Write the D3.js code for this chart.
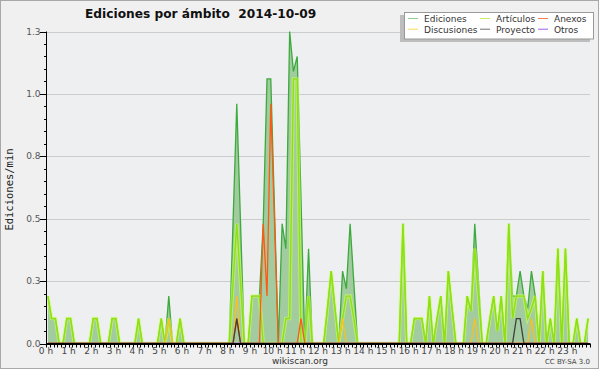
<!DOCTYPE html>
<html>
<head>
<meta charset="utf-8">
<script src="https://cdn.jsdelivr.net/npm/d3@7"></script>
<style>
  body { margin: 0; background: #fff; }
  svg text { font-family: "DejaVu Sans", sans-serif; white-space: pre; }
</style>
</head>
<body>
<div id="chart"></div>
<script>
// edits per minute, one value per 10-minute bin (144 bins = 24 h)
var ediciones = [
  0.19,0.1,0.1,0,0,0.1,0.1,0,0,0,0,0,
  0.1,0.1,0,0,0,0.1,0.1,0,0,0,0,0,
  0.1,0,0,0,0,0,0.1,0,0.19,0,0,0.1,
  0,0,0,0,0,0,0,0,0,0,0,0,
  0,0.48,0.96,0.48,0,0,0.19,0.19,0.19,0.48,1.06,1.06,
  0.53,0,0.48,0.38,1.25,1.09,1.15,0.58,0,0.38,0,0,
  0,0,0.14,0.29,0.14,0,0.29,0.22,0.48,0.24,0,0,
  0,0,0,0,0,0,0,0,0,0,0.48,0,
  0,0.1,0.1,0.1,0,0.19,0,0.1,0.19,0,0.29,0.14,
  0,0,0,0.19,0.13,0.48,0.24,0,0,0.1,0.19,0.05,
  0.19,0,0.48,0.19,0.19,0.29,0.19,0.14,0.29,0.19,0,0.29,
  0,0.1,0,0.38,0,0.38,0,0,0.1,0,0,0.1
];
var articulos = [
  0.19,0.1,0.1,0,0,0.1,0.1,0,0,0,0,0,
  0.1,0.1,0,0,0,0.1,0.1,0,0,0,0,0,
  0.1,0,0,0,0,0,0.1,0,0.1,0,0,0.1,
  0,0,0,0,0,0,0,0,0,0,0,0,
  0,0.24,0.48,0.24,0,0,0.19,0.19,0.19,0,0,0,
  0,0,0,0.1,0.1,1.06,1.06,0,0,0.19,0,0,
  0,0,0.14,0.29,0.14,0,0.1,0.19,0.19,0.1,0,0,
  0,0,0,0,0,0,0,0,0,0,0.48,0,
  0,0.1,0.1,0.1,0,0.19,0,0.1,0.19,0,0.29,0.14,
  0,0,0,0.19,0.13,0.38,0.19,0,0,0.1,0.19,0.05,
  0.19,0,0.48,0.1,0.19,0.19,0.19,0.1,0.14,0.19,0,0.29,
  0,0.1,0,0.38,0,0.38,0,0,0.1,0,0,0.1
];
var anexos = [
  0,0,0,0,0,0,0,0,0,0,0,0,
  0,0,0,0,0,0,0,0,0,0,0,0,
  0,0,0,0,0,0,0,0,0,0,0,0,
  0,0,0,0,0,0,0,0,0,0,0,0,
  0,0,0.1,0,0,0,0,0,0,0.48,0.19,0.96,
  0.48,0,0,0,0,0,0,0.1,0,0,0,0,
  0,0,0,0,0,0,0,0,0,0,0,0,
  0,0,0,0,0,0,0,0,0,0,0,0,
  0,0,0,0,0,0,0,0,0,0,0,0,
  0,0,0,0,0,0,0,0,0,0,0,0,
  0,0,0,0,0,0,0,0,0,0,0,0,
  0,0,0,0,0,0,0,0,0,0,0,0
];
var discusiones = [
  0,0,0,0,0,0,0,0,0,0,0,0,
  0,0,0,0,0,0,0,0,0,0,0,0,
  0,0,0,0,0,0,0,0,0.1,0,0,0,
  0,0,0,0,0,0,0,0,0,0,0,0,
  0,0,0.19,0,0,0,0,0,0,0,0,0,
  0,0,0,0,0,0,0,0,0,0,0,0,
  0,0,0,0,0,0,0.1,0,0,0,0,0,
  0,0,0,0,0,0,0,0,0,0,0,0,
  0,0,0,0,0,0,0,0,0,0,0,0,
  0,0,0,0,0,0.1,0,0,0,0,0,0,
  0,0,0,0,0,0,0,0,0.1,0,0,0,
  0,0,0,0,0,0,0,0,0,0,0,0
];
var proyecto = [
  0,0,0,0,0,0,0,0,0,0,0,0,
  0,0,0,0,0,0,0,0,0,0,0,0,
  0,0,0,0,0,0,0,0,0,0,0,0,
  0,0,0,0,0,0,0,0,0,0,0,0,
  0,0,0.1,0,0,0,0,0,0,0,0,0,
  0,0,0,0,0,0,0,0,0,0,0,0,
  0,0,0,0,0,0,0,0,0,0,0,0,
  0,0,0,0,0,0,0,0,0,0,0,0,
  0,0,0,0,0,0,0,0,0,0,0,0,
  0,0,0,0,0,0,0,0,0,0,0,0,
  0,0,0,0,0.1,0.1,0,0,0,0,0,0,
  0,0,0,0,0,0,0,0,0,0,0,0
];
var otros = [
  0,0,0,0,0,0,0,0,0,0,0,0,
  0,0,0,0,0,0,0,0,0,0,0,0,
  0,0,0,0,0,0,0,0,0,0,0,0,
  0,0,0,0,0,0,0,0,0,0,0,0,
  0,0,0,0,0,0,0,0,0,0,0,0,
  0,0,0,0,0,0,0,0,0,0,0,0,
  0,0,0,0,0,0,0,0,0,0,0,0,
  0,0,0,0,0,0,0,0,0,0,0,0,
  0,0,0,0,0,0,0,0,0,0,0,0,
  0,0,0,0,0,0,0,0,0,0,0,0,
  0,0,0,0,0,0,0,0,0,0,0,0,
  0,0,0,0,0,0,0,0,0,0,0,0
];

var yTicks = [0, 0.25, 0.5, 0.75, 1.0, 1.25];
var yTickLabels = ["0.0", "0.3", "0.5", "0.8", "1.0", "1.3"];
var hourLabels = d3.range(24).map(function(h) { return h + " h"; });

var legendItems = [
  {name: "Ediciones", color: "#8fd08f"},
  {name: "Artículos", color: "#c8f060"},
  {name: "Anexos", color: "#f08050"},
  {name: "Discusiones", color: "#f8d860"},
  {name: "Proyecto", color: "#707070"},
  {name: "Otros", color: "#a060f0"}
];

var width = 600, height = 370;
var margin = {left: 46, right: 10, top: 31.5, bottom: 26.5};

var svg = d3.select("#chart").append("svg")
    .attr("width", width)
    .attr("height", height);

svg.append("rect")
    .attr("x", 0.5).attr("y", 0.5)
    .attr("width", width - 2).attr("height", height - 2)
    .attr("fill", "#f0f0f0")
    .attr("stroke", "#a8a8a8");

var x = d3.scaleLinear().domain([0, 24]).range([margin.left, width - margin.right]);
var y = d3.scaleLinear().domain([0, 1.25]).range([height - margin.bottom, margin.top]);

svg.append("rect")
    .attr("x", x(0)).attr("y", y(1.25))
    .attr("width", x(24) - x(0)).attr("height", y(0) - y(1.25))
    .attr("fill", "#eeeff1");

svg.append("clipPath").attr("id", "plotclip")
  .append("rect")
    .attr("x", x(0)).attr("y", 0)
    .attr("width", x(24) - x(0)).attr("height", y(0) - 0.6);

// grid
svg.append("g").selectAll("line")
  .data(yTicks.slice(1))
  .enter().append("line")
    .attr("x1", x(0)).attr("x2", x(24))
    .attr("y1", function(d) { return Math.round(y(d)) + 0.5; })
    .attr("y2", function(d) { return Math.round(y(d)) + 0.5; })
    .attr("stroke", "#cccccc");

function binHour(i) { return (i + 0.5) / 6; }

var area = d3.area()
    .x(function(d, i) { return x(binHour(i)); })
    .y0(y(0))
    .y1(function(d) { return y(d); });

var line = d3.line()
    .x(function(d, i) { return x(binHour(i)); })
    .y(function(d) { return y(d); });

var plot = svg.append("g").attr("clip-path", "url(#plotclip)");

plot.append("path")
    .datum(ediciones)
    .attr("d", area)
    .attr("fill", "#a2cb9f");

plot.append("path")
    .datum(ediciones)
    .attr("d", line)
    .attr("fill", "none")
    .attr("stroke", "#3caa3c")
    .attr("stroke-width", 1.3);

// Artículos with a soft glow
plot.append("path")
    .datum(articulos)
    .attr("d", line)
    .attr("fill", "none")
    .attr("stroke", "#ccff66")
    .attr("stroke-opacity", 0.6)
    .attr("stroke-width", 3.5);
plot.append("path")
    .datum(articulos)
    .attr("d", line)
    .attr("fill", "none")
    .attr("stroke", "#8ee010")
    .attr("stroke-width", 1.4);

var others = [
  {data: otros, color: "#9040f0"},
  {data: discusiones, color: "#f8c020"},
  {data: anexos, color: "#ff5a14"},
  {data: proyecto, color: "#404040"}
];
others.forEach(function(s) {
  plot.append("path")
      .datum(s.data)
      .attr("d", line)
      .attr("fill", "none")
      .attr("stroke", s.color)
      .attr("stroke-width", 1.3);
});

// y axis
var yAxis = svg.append("g").attr("transform", "translate(" + x(0) + ",0)");
yAxis.append("line")
    .attr("x1", 0.5).attr("x2", 0.5)
    .attr("y1", y(1.25)).attr("y2", y(0))
    .attr("stroke", "#000");
yAxis.selectAll(".minor")
  .data(d3.range(0, 26).map(function(k) { return k * 0.05; }))
  .enter().append("line")
    .attr("x1", -2).attr("x2", 0.5)
    .attr("y1", function(d) { return Math.round(y(d)) + 0.5; })
    .attr("y2", function(d) { return Math.round(y(d)) + 0.5; })
    .attr("stroke", "#000");
yAxis.selectAll(".major")
  .data(yTicks)
  .enter().append("line")
    .attr("x1", -6).attr("x2", 0.5)
    .attr("y1", function(d) { return Math.round(y(d)) + 0.5; })
    .attr("y2", function(d) { return Math.round(y(d)) + 0.5; })
    .attr("stroke", "#000");
yAxis.selectAll("text")
  .data(yTicks)
  .enter().append("text")
    .attr("x", -5.5)
    .attr("y", function(d) { return y(d) + 3; })
    .attr("text-anchor", "end")
    .attr("font-size", 9)
    .attr("fill", "#555")
    .text(function(d, i) { return yTickLabels[i]; });

// x axis
var xAxis = svg.append("g").attr("transform", "translate(0," + y(0) + ")");
xAxis.append("line")
    .attr("x1", x(0)).attr("x2", x(24))
    .attr("y1", 0.5).attr("y2", 0.5)
    .attr("stroke", "#000")
    .attr("stroke-width", 2);
xAxis.selectAll(".tick")
  .data(d3.range(0, 145))
  .enter().append("line")
    .attr("x1", function(d) { return Math.round(x(d / 6)) + 0.5; })
    .attr("x2", function(d) { return Math.round(x(d / 6)) + 0.5; })
    .attr("y1", 0).attr("y2", 4)
    .attr("stroke", "#000");
xAxis.selectAll("text")
  .data(hourLabels)
  .enter().append("text")
    .attr("x", function(d, i) { return x(i); })
    .attr("y", 10)
    .attr("text-anchor", "middle")
    .attr("font-size", 9)
    .attr("fill", "#444")
    .text(function(d) { return d; });

svg.append("text")
    .attr("transform", "translate(13," + (y(0.625) + 2) + ") rotate(-90)")
    .attr("text-anchor", "middle")
    .attr("font-size", 10.5)
    .style("font-family", "'DejaVu Sans Mono', monospace")
    .attr("fill", "#222")
    .text("Ediciones/min");

svg.append("text")
    .attr("x", 85).attr("y", 18)
    .attr("font-size", 12.2)
    .attr("font-weight", "bold")
    .attr("fill", "#111")
    .text("Ediciones por ámbito  2014-10-09");

// legend
var lg = svg.append("g").attr("transform", "translate(404,12)");
lg.append("rect").attr("x", -4).attr("y", 3).attr("width", 190).attr("height", 27).attr("fill", "#bdbdbd");
lg.append("rect").attr("x", 0.5).attr("y", 0.5).attr("width", 189).attr("height", 26.5)
    .attr("fill", "#fff").attr("stroke", "#999");
var colX = [4, 76, 134], rowY = [6.5, 17.2];
legendItems.forEach(function(d, i) {
  var cx = colX[i % 3], cy = rowY[Math.floor(i / 3)];
  lg.append("line")
      .attr("x1", cx).attr("x2", cx + 10)
      .attr("y1", cy).attr("y2", cy)
      .attr("stroke", d.color);
  lg.append("text")
      .attr("x", cx + 16).attr("y", cy + 3.5)
      .attr("font-size", 9)
      .attr("fill", "#333")
      .text(d.name);
});

svg.append("text")
    .attr("x", 300).attr("y", 364)
    .attr("text-anchor", "middle")
    .attr("font-size", 9)
    .attr("fill", "#333")
    .text("wikiscan.org");

svg.append("text")
    .attr("x", 590).attr("y", 364)
    .attr("text-anchor", "end")
    .attr("font-size", 7)
    .attr("fill", "#444")
    .text("CC BY-SA 3.0");
</script>
</body>
</html>
